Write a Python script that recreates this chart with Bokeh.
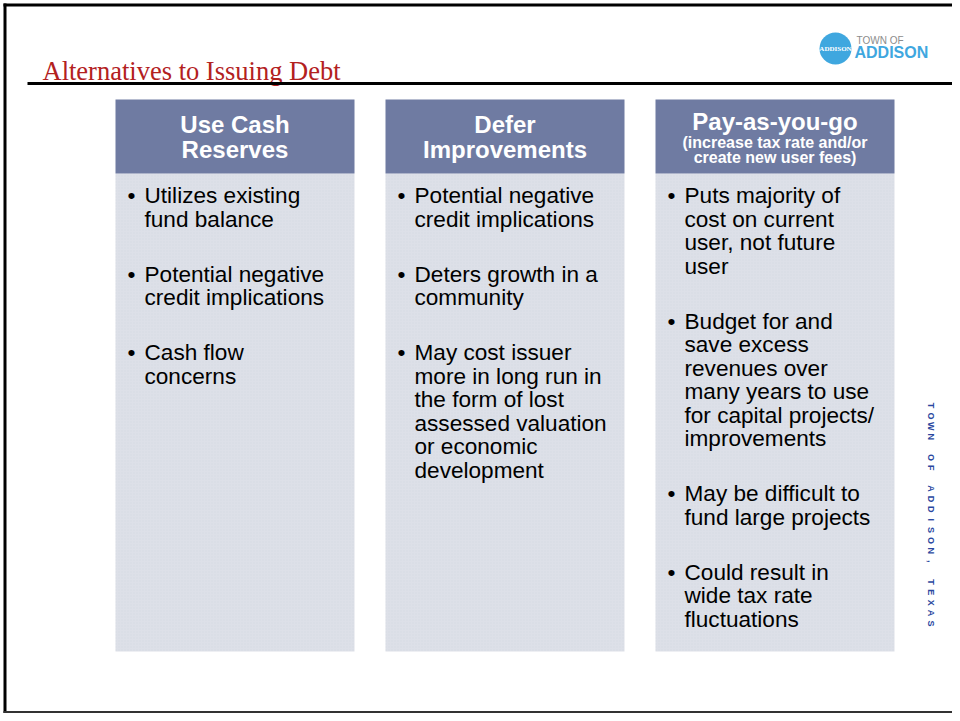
from bokeh.plotting import figure
from bokeh.models import Range1d
from bokeh.embed import file_html
from bokeh.resources import INLINE
from bokeh.core.properties import value
import math

# ---------------- content ----------------
title_text = "Alternatives to Issuing Debt"
column_titles = [["Use Cash", "Reserves"], ["Defer", "Improvements"], ["Pay-as-you-go"]]
column_subtitles = [[], [], ["(increase tax rate and/or", "create new user fees)"]]
bullets_cash = [["Utilizes existing", "fund balance"],
                ["Potential negative", "credit implications"],
                ["Cash flow", "concerns"]]
bullets_defer = [["Potential negative", "credit implications"],
                 ["Deters growth in a", "community"],
                 ["May cost issuer", "more in long run in", "the form of lost",
                  "assessed valuation", "or economic", "development"]]
bullets_payg = [["Puts majority of", "cost on current", "user, not future", "user"],
                ["Budget for and", "save excess", "revenues over", "many years to use",
                 "for capital projects/", "improvements"],
                ["May be difficult to", "fund large projects"],
                ["Could result in", "wide tax rate", "fluctuations"]]
column_bullets = [bullets_cash, bullets_defer, bullets_payg]
side_text = "TOWN OF ADDISON, TEXAS"
logo_small = "TOWN OF"
logo_name = "ADDISON"

# ---------------- layout / style ----------------
W, H = 952, 713
SANS = value("Liberation Sans")
SERIF = value("Liberation Serif")
HEADER_COLOR = "#6F7BA2"
BODY_COLOR = "#DDE0E8"
LOGO_BLUE = "#3FA7DF"
SIDE_BLUE = "#2A48A0"

box_lefts = [115, 385, 655]
box_w = 239
header_top, header_bot, body_bot = 99, 173, 651

p = figure(width=W, height=H, x_range=Range1d(0, W), y_range=Range1d(H, 0),
           output_backend="svg", toolbar_location=None, min_border=0)
p.axis.visible = False
p.grid.visible = False
p.outline_line_color = None
p.background_fill_color = "white"
p.border_fill_color = "white"

# slide frame
p.segment(x0=[4.5, 3], y0=[3, 4.5], x1=[4.5, W], y1=[H, 4.5], line_color="black", line_width=3)
p.segment(x0=[3], y0=[H - 1.5], x1=[W], y1=[H - 1.5], line_color="#333333", line_width=2)

# title + rule
p.text(x=[42], y=[70], text=[title_text], text_font=SERIF, text_font_size="26.5px",
       text_color="#B3211E", text_baseline="middle", text_align="left")
p.segment(x0=[27], y0=[83], x1=[W], y1=[83], line_color="black", line_width=3)

# logo
p.scatter(x=[835], y=[48], size=32, marker="circle", fill_color=LOGO_BLUE, line_color=None)
p.text(x=[835], y=[48], text=[logo_name], text_font=value("Liberation Sans Narrow"),
       text_font_size="7px", text_font_style="bold", text_color="white",
       text_align="center", text_baseline="middle")
p.text(x=[856], y=[40], text=[logo_small], text_font=SANS, text_font_size="10px",
       text_color="#8C8C8C", text_align="left", text_baseline="middle")
p.text(x=[854], y=[52], text=[logo_name], text_font=SANS, text_font_size="16px",
       text_font_style="bold", text_color=LOGO_BLUE, text_align="left",
       text_baseline="middle")

# boxes
rights = [l + box_w for l in box_lefts]
p.quad(left=box_lefts, right=rights, top=[header_bot] * 3, bottom=[body_bot] * 3,
       fill_color=BODY_COLOR, line_color=None, hatch_pattern=".",
       hatch_color="#CBCFDA", hatch_scale=3, hatch_alpha=0.4)
p.quad(left=box_lefts, right=rights, top=[header_top] * 3, bottom=[header_bot] * 3,
       fill_color=HEADER_COLOR, line_color=None)

for ci, left in enumerate(box_lefts):
    cx = left + box_w / 2
    titles = column_titles[ci]
    subs = column_subtitles[ci]
    if subs:
        ty = [121]
        sy = [142, 157]
    else:
        ty = [124, 149]
        sy = []
    p.text(x=[cx] * len(titles), y=ty, text=titles, text_font=SANS, text_font_size="24px",
           text_font_style="bold", text_color="white", text_align="center",
           text_baseline="middle")
    if subs:
        p.text(x=[cx] * len(subs), y=sy, text=subs, text_font=SANS, text_font_size="16px",
               text_font_style="bold", text_color="white", text_align="center",
               text_baseline="middle")
    # bullets
    y = 195.0
    bx, by, lx, ly, lt = [], [], [], [], []
    for bi, lines in enumerate(column_bullets[ci]):
        bx.append(left + 12)
        by.append(y)
        for ln in lines:
            lx.append(left + 29)
            ly.append(y)
            lt.append(ln)
            y += 23.5
        y += 31.5
    p.text(x=bx, y=by, text=["\u2022"] * len(bx), text_font=SANS, text_font_size="22.6px",
           text_color="black", text_align="left", text_baseline="middle")
    p.text(x=lx, y=ly, text=lt, text_font=SANS, text_font_size="22.6px",
           text_color="black", text_align="left", text_baseline="middle")

# vertical side text, letter-spaced
chars = list(side_text)
step = 218 / (len(chars) - 1)
p.text(x=[930] * len(chars), y=[405 + i * step for i in range(len(chars))], text=chars,
       angle=-math.pi / 2, text_font=SANS, text_font_size="9px", text_font_style="bold",
       text_color=SIDE_BLUE, text_align="center", text_baseline="middle")

open("out.html", "w").write(file_html(p, INLINE))
